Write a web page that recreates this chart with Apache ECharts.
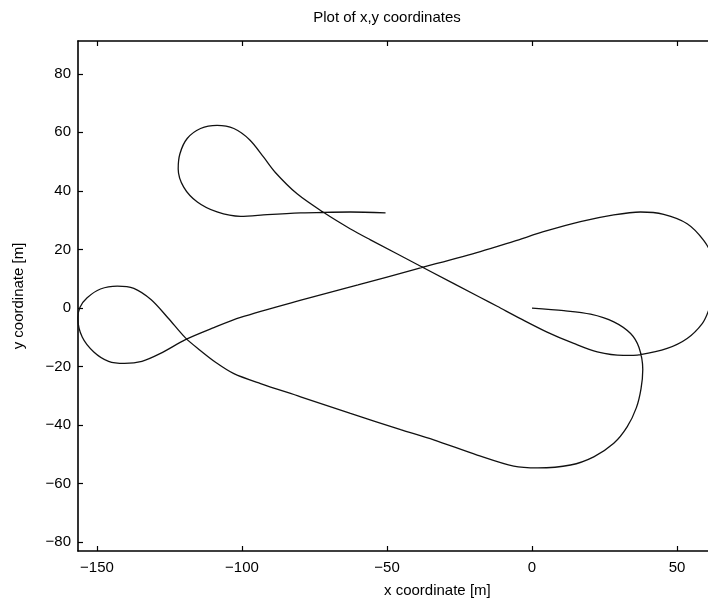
<!DOCTYPE html>
<html>
<head>
<meta charset="utf-8">
<script src="https://cdn.jsdelivr.net/npm/echarts@6/dist/echarts.min.js"></script>
<style>
  html, body { margin: 0; padding: 0; background: #fff; }
  #chart { width: 708px; height: 605px; }
</style>
</head>
<body>
<div id="chart"></div>
<script>
// Vehicle path, x coordinate [m], in travel order from the start at (0, 0)
const pathX = [
  0, 11.0, 20.2, 28.2, 34.0, 36.9, 38.2, 37.6, 36.0, 32.8, 28.2, 21.3, 13.3, 2.0, -6.3,
  -18.9, -33.9, -45.3, -62.6, -79.8, -93.6, -102.8, -109.0, -114.5, -119.5,
  -125.5, -131.3, -137.3, -143.0, -148.8, -153.4, -155.9, -156.6, -155.1, -151.1,
  -146.0, -140.5, -134.5, -128.1, -119.5, -109.7, -100.5,
  -80, -60, -40, -17.8, -6.3, 5.2, 16.7, 28.2, 37.4, 45.4, 53.5, 59.2, 62.2, 63.0,
  61.9, 60.9, 58.7, 53.5, 46.6, 37.4, 31.5, 22.5, 14.4, 5.2, -4.0, -12.0, -17.8,
  -37.1, -55.7, -62.6, -71.8, -81.0, -88.5, -92.6, -97.3, -102.8, -108.6, -114.3,
  -118.9, -121.4, -122.0, -120.1, -115.4, -108.6, -100.5, -91.3, -79.8, -71.8, -62.6, -50.5
];
// Vehicle path, y coordinate [m]
const pathY = [
  0, -0.9, -2.1, -4.7, -8.7, -13.5, -21.0, -27.5, -34.0, -40.6, -46.2, -50.8, -53.6, -54.6, -54.0,
  -50.2, -45.0, -41.5, -36.0, -30.3, -25.8, -22.4, -18.6, -14.4, -10.2,
  -3.4, 2.8, 6.7, 7.5, 6.5, 3.5, 0.2, -3.5, -9.9, -15.0,
  -18.2, -18.9, -18.2, -15.5, -10.8, -6.7, -3.2,
  2.6, 7.9, 13.3, 19.3, 22.8, 26.4, 29.5, 31.8, 32.8, 32.0, 28.8, 23.1, 17.3, 9.0,
  3.3, -0.8, -5.3, -10.4, -13.8, -15.9, -16.2, -15.0, -12.1, -8.2, -3.6, 0.6, 3.6,
  13.6, 23.3, 27.0, 32.6, 39.0, 46.3, 51.6, 57.4, 61.3, 62.4, 61.3,
  57.9, 52.7, 47.5, 41.3, 36.2, 32.8, 31.3, 31.9, 32.5, 32.7, 32.8, 32.5
];

// Tick positions
const xTicks = [-150, -100, -50, 0, 50];
const yTicks = [-80, -60, -40, -20, 0, 20, 40, 60, 80];

const FONT = '"Liberation Sans", Arial, Helvetica, sans-serif';
const fmt = v => (v < 0 ? '\u2212' + Math.abs(v) : String(v));

const chart = echarts.init(document.getElementById('chart'), null, { renderer: 'canvas' });

const axisLine = { show: true, onZero: false, lineStyle: { color: '#000', width: 1.6 } };
const tick = (vals) => ({ show: true, inside: true, length: 5, customValues: vals, lineStyle: { color: '#000', width: 1.2 } });

chart.setOption({
  animation: false,
  backgroundColor: '#fff',
  title: {
    text: 'Plot of x,y coordinates',
    left: 382, top: 5, textAlign: 'center',
    textStyle: { fontFamily: FONT, fontSize: 15, fontWeight: 'normal', color: '#000' }
  },
  grid: { left: 78, top: 41, right: 0, bottom: 54, containLabel: false },
  xAxis: [{
    type: 'value', position: 'bottom',
    min: -156.55, max: 60.69,
    axisLine: axisLine,
    axisTick: tick(xTicks),
    splitLine: { show: false },
    axisLabel: { customValues: xTicks, formatter: fmt, margin: 9, color: '#000', fontFamily: FONT, fontSize: 15 }
  }, {
    type: 'value', position: 'top',
    min: -156.55, max: 60.69,
    axisLine: axisLine,
    axisTick: tick(xTicks),
    splitLine: { show: false },
    axisLabel: { show: false }
  }],
  yAxis: [{
    type: 'value', position: 'left',
    min: -82.97, max: 91.19,
    axisLine: axisLine,
    axisTick: tick(yTicks),
    splitLine: { show: false },
    axisLabel: { customValues: yTicks, formatter: fmt, margin: 7, color: '#000', fontFamily: FONT, fontSize: 15 },
    name: 'y coordinate [m]',
    nameLocation: 'middle', nameGap: 52, nameRotate: 90,
    nameTextStyle: { fontFamily: FONT, fontSize: 15, color: '#000' }
  }],
  graphic: [{
    type: 'text', left: 384, top: 583,
    style: { text: 'x coordinate [m]', font: '15px ' + FONT, fill: '#000', textAlign: 'center' }
  }],
  series: [{
    type: 'line',
    data: pathX.map((x, i) => [x, pathY[i]]),
    smooth: 0.3,
    smoothMonotone: 'none',
    showSymbol: false,
    clip: true,
    lineStyle: { color: '#111', width: 1.3 }
  }]
});
</script>
</body>
</html>
